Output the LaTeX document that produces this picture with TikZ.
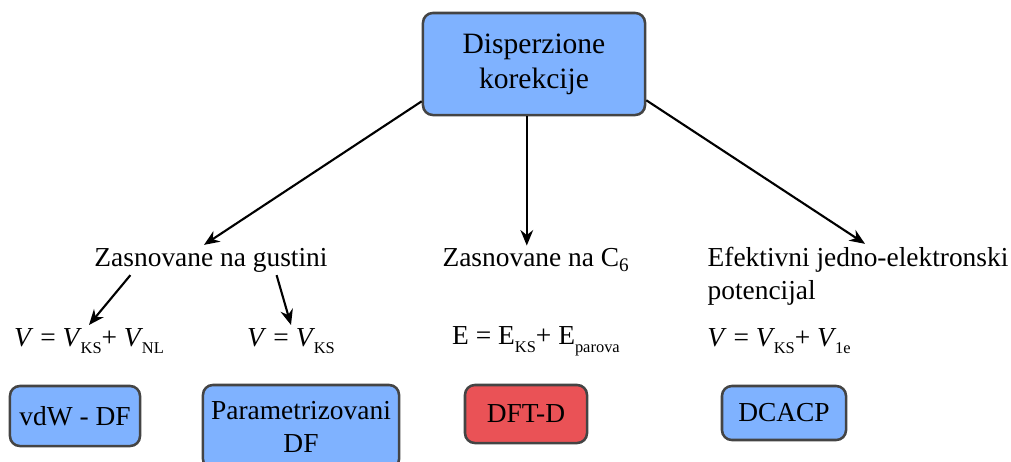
\documentclass[tikz,border=0pt]{standalone}
\usepackage{fontspec}
\setmainfont{Liberation Serif}
\usetikzlibrary{arrows.meta}
\definecolor{boxblue}{RGB}{127,178,255}
\definecolor{boxred}{RGB}{234,82,86}
\definecolor{boxedge}{RGB}{68,68,68}
\newcommand{\ind}[1]{\raisebox{-5.5pt}{\fontsize{11.7}{13}\selectfont #1}}
\tikzset{
  metod/.style={draw=boxedge, line width=1.8pt, rounded corners=7pt, fill=boxblue,
    align=center, inner sep=0pt, font=\fontsize{19.5}{23.5}\selectfont},
  txt/.style={inner sep=2pt, font=\fontsize{19.5}{23.5}\selectfont},
  strel/.style={-{Stealth[length=11pt,width=9pt]}, line width=1.5pt},
}

\begin{document}
\begin{tikzpicture}[x=.025cm, y=-.025cm]
      \useasboundingbox (0,0) rectangle (1011,461);
      %top
      \node[metod, minimum width=5.55cm, minimum height=2.55cm,
        font=\fontsize{21}{25}\selectfont] (top) at (534,64) {Disperzione\\korekcije};
      %groups
      \node[txt] (gust) at (211,260) {Zasnovane na gustini};
      \node[txt] (c6) at (536,260) {Zasnovane na C\textsubscript{6}};
      \node[txt, align=left] (efekt) at (858,276) {Efektivni jedno-elektronski\\potencijal};
      %formulas
      \node[txt] (f1) at (89,341) {\textit{V} = \textit{V}\kern-1pt\ind{KS}+ \textit{V}\kern-1pt\ind{NL}};
      \node[txt] (f2) at (291,341) {\textit{V} = \textit{V}\kern-1pt\ind{KS}};
      \node[txt] (f3) at (536,341) {E = E\ind{KS}+ E\ind{parova}};
      \node[txt] (f4) at (779,341) {\textit{V} = \textit{V}\kern-1pt\ind{KS}+ \textit{V}\kern-1pt\ind{1e}};
      %methods
      \node[metod, minimum width=3.25cm, minimum height=1.5cm] (vdw) at (75,416) {vdW - DF};
      \node[metod, minimum width=4.9cm, minimum height=2.1cm] (param) at (301,427) {Parametrizovani\\DF};
      \node[metod, fill=boxred, minimum width=3.05cm, minimum height=1.45cm] (dftd) at (526,414) {DFT-D};
      \node[metod, minimum width=3.1cm, minimum height=1.35cm] (dcacp) at (784,413) {DCACP};
      %arrows
      \draw[strel] ([yshift=.375cm]top.south west) -- ([xshift=-.175cm]gust.north);
      \draw[strel] ([xshift=-.18cm]top.south) -- ([xshift=-.18cm]top.south |- c6.north);
      \draw[strel] ([yshift=.4cm]top.south east) -- ([xshift=.175cm]efekt.north);
      \draw[strel] ([xshift=.975cm]gust.south west) -- (f1.north);
      \draw[strel] ([xshift=-1.35cm]gust.south east) -- (f2.north);
    \end{tikzpicture}
\end{document}
